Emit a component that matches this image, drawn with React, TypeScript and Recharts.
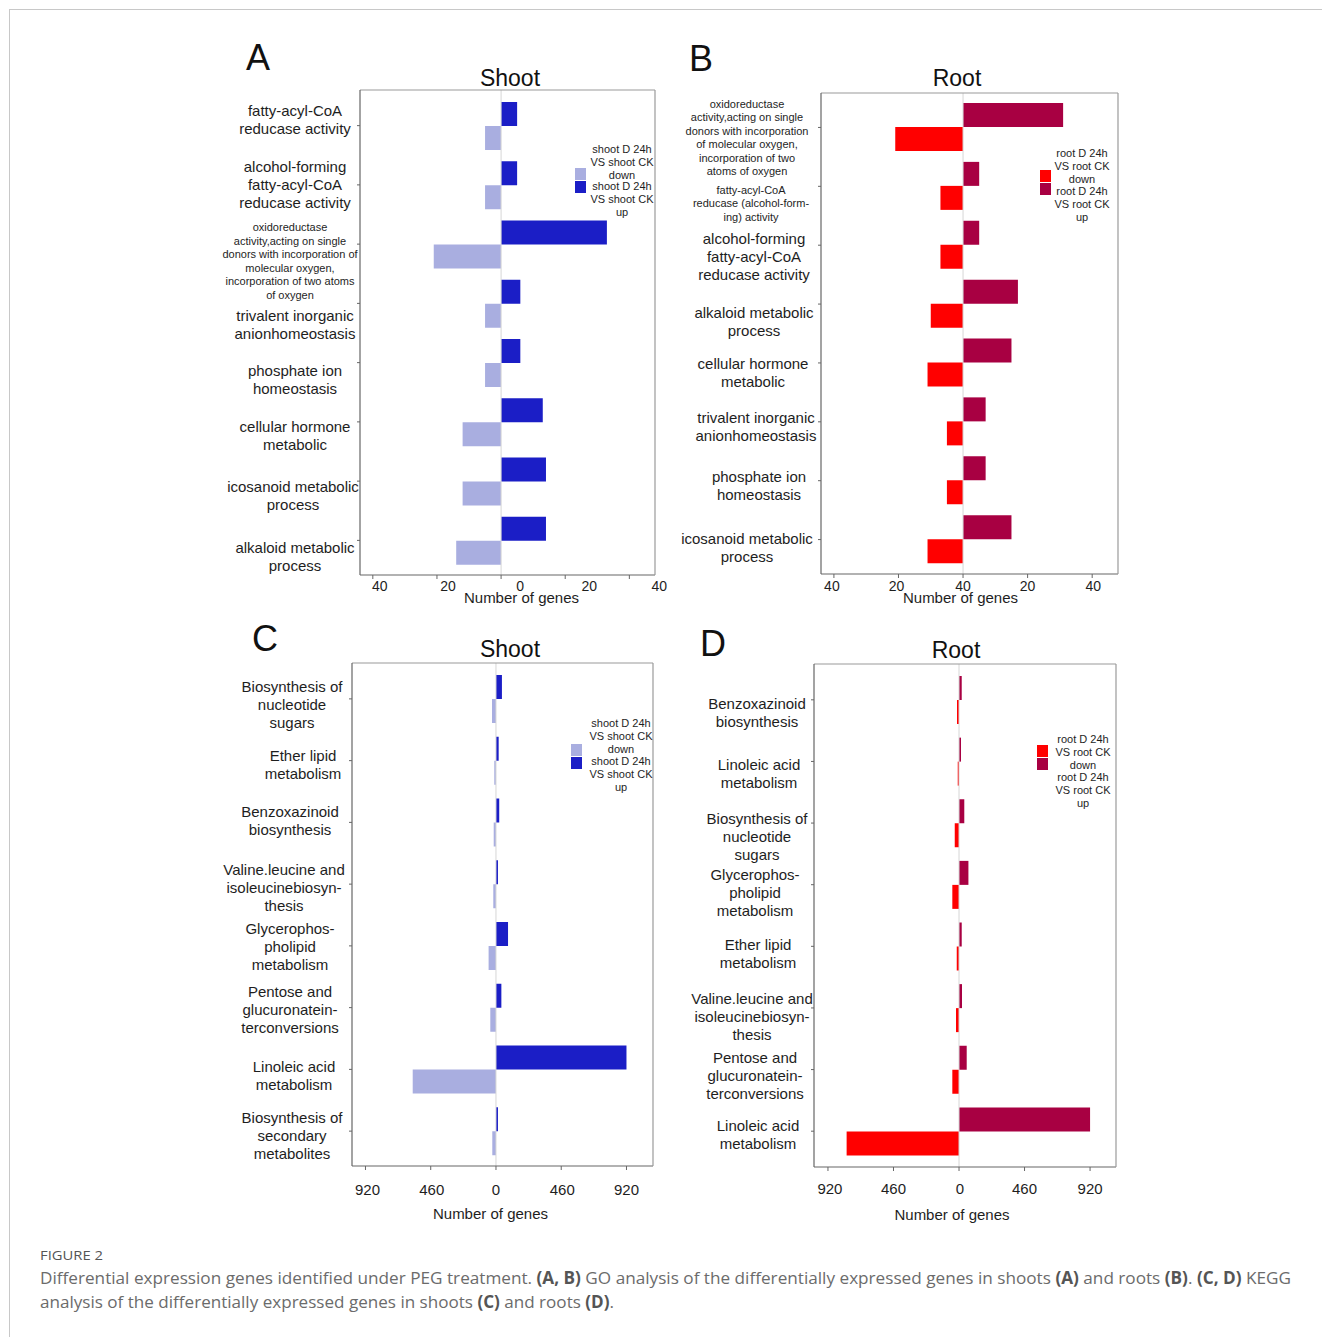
import React from 'react';
import { BarChart, Bar, XAxis, YAxis, ReferenceLine, Legend } from 'recharts';

const FONT = '"Liberation Sans", Arial, Helvetica, sans-serif';
const CAPTION_FONT = '"Liberation Sans Narrow", "Open Sans", "Noto Sans", sans-serif';
const AXIS_W = 150; // room for the multi-line term labels
const TOP_M = 9; // + 1px top frame axis
const RIGHT_M = 19; // + 1px right frame axis

// ---- series colours ----
const SHOOT_UP = '#1b1ec6';
const SHOOT_DOWN = '#a9aee0';
const ROOT_UP = '#a80042';
const ROOT_DOWN = '#ff0000';

// ---- A: GO terms, shoot (top to bottom) ----
const goShootTerms = [
  'fatty-acyl-CoA\nreducase activity',
  'alcohol-forming\nfatty-acyl-CoA\nreducase activity',
  'oxidoreductase\nactivity,acting on single\ndonors with incorporation of\nmolecular oxygen,\nincorporation of two atoms\nof oxygen',
  'trivalent inorganic\nanionhomeostasis',
  'phosphate ion\nhomeostasis',
  'cellular hormone\nmetabolic',
  'icosanoid metabolic\nprocess',
  'alkaloid metabolic\nprocess',
];
const goShootUp = [5, 5, 33, 6, 6, 13, 14, 14];
const goShootDown = [5, 5, 21, 5, 5, 12, 12, 14];

// ---- B: GO terms, root ----
const goRootTerms = [
  'oxidoreductase\nactivity,acting on single\ndonors with incorporation\nof molecular oxygen,\nincorporation of two\natoms of oxygen',
  'fatty-acyl-CoA\nreducase (alcohol-form-\ning) activity',
  'alcohol-forming\nfatty-acyl-CoA\nreducase activity',
  'alkaloid metabolic\nprocess',
  'cellular hormone\nmetabolic',
  'trivalent inorganic\nanionhomeostasis',
  'phosphate ion\nhomeostasis',
  'icosanoid metabolic\nprocess',
];
const goRootUp = [31, 5, 5, 17, 15, 7, 7, 15];
const goRootDown = [21, 7, 7, 10, 11, 5, 5, 11];

// ---- C: KEGG pathways, shoot ----
const keggShootTerms = [
  'Biosynthesis of\nnucleotide\nsugars',
  'Ether lipid\nmetabolism',
  'Benzoxazinoid\nbiosynthesis',
  'Valine.leucine and\nisoleucinebiosyn-\nthesis',
  'Glycerophos-\npholipid\nmetabolism',
  'Pentose and\nglucuronatein-\nterconversions',
  'Linoleic acid\nmetabolism',
  'Biosynthesis of\nsecondary\nmetabolites',
];
const keggShootUp = [42, 19, 23, 14, 85, 38, 920, 14];
const keggShootDown = [28, 12, 16, 19, 52, 40, 587, 26];

// ---- D: KEGG pathways, root ----
const keggRootTerms = [
  'Benzoxazinoid\nbiosynthesis',
  'Linoleic acid\nmetabolism',
  'Biosynthesis of\nnucleotide\nsugars',
  'Glycerophos-\npholipid\nmetabolism',
  'Ether lipid\nmetabolism',
  'Valine.leucine and\nisoleucinebiosyn-\nthesis',
  'Pentose and\nglucuronatein-\nterconversions',
  'Linoleic acid\nmetabolism',
];
const keggRootUp = [19, 14, 37, 66, 19, 21, 54, 920];
const keggRootDown = [14, 9, 30, 47, 16, 21, 47, 789];

// ---- axis ticks ----
const goTicks = [-40, -20, 0, 20, 40];
const goShootTickLabels = ['40', '20', '0', '20', '40'];
const goRootTickLabels = ['40', '20', '40', '20', '40'];
const keggTicks = [-920, -460, 0, 460, 920];
const keggTickLabels = ['920', '460', '0', '460', '920'];

// ---- series names (legend lines) ----
const shootUpName = 'shoot D 24h\nVS shoot CK\nup';
const shootDownName = 'shoot D 24h\nVS shoot CK\ndown';
const rootUpName = 'root D 24h\nVS root CK\nup';
const rootDownName = 'root D 24h\nVS root CK\ndown';

type Rect = { x: number; y: number; w: number; h: number };
type Lay = {
  plot: Rect;
  domain: [number, number];
  pad: { top: number; bottom: number };
  xh: number;
  smallRows: number[];
  labelInset: number;
  labelInsetSmall: number;
  labelNudge: number[];
  labelShiftX: number[];
  tickNudge: number[];
  tickDy: number;
  tickFont: number;
  titleDx: number;
  titleDy: number;
  legSqX: number;
  legSqY: number;
  legTextX: number;
  legDownY: number;
  legUpY: number;
};

type Series = {
  terms: string[];
  up: number[];
  down: number[];
  upName: string;
  downName: string;
  upColor: string;
  downColor: string;
  ticks: number[];
  tickLabels: string[];
};

function TermTick(props: any) {
  const { y, payload, lay } = props;
  const idx: number = props.index ?? payload.index ?? 0;
  const lines = String(payload.value).split('\n');
  const small = lay.smallRows.includes(idx);
  const fs = small ? 11 : 15;
  const lh = small ? 13.5 : 18;
  const cx = AXIS_W - (small ? lay.labelInsetSmall : lay.labelInset) + (lay.labelShiftX[idx] ?? 0);
  const cy = y + (lay.labelNudge[idx] ?? 0);
  const y0 = cy - ((lines.length - 1) * lh) / 2;
  return (
    <text textAnchor="middle" fontSize={fs} fontFamily={FONT} fill="#1e1e1e">
      {lines.map((l, i) => (
        <tspan key={i} x={cx} y={y0 + i * lh} dy="0.36em">
          {l}
        </tspan>
      ))}
    </text>
  );
}

function ValueTick(props: any) {
  const { x, y, payload, lay, ticks, labels } = props;
  const i = ticks.indexOf(payload.value);
  if (i < 0) return null;
  return (
    <text
      x={x + lay.tickNudge[i]}
      y={y + lay.tickDy}
      textAnchor="middle"
      fontSize={lay.tickFont}
      fontFamily={FONT}
      fill="#1e1e1e"
    >
      {labels[i]}
    </text>
  );
}

function PairLegend({ payload, lay, origin, downName }: any) {
  const all = [...(payload || [])];
  // "down" entry sits on top, "up" entry below it
  const items = [
    ...all.filter((it: any) => it.value === downName),
    ...all.filter((it: any) => it.value !== downName),
  ];
  return (
    <div style={{ position: 'relative', width: '100%', height: '100%', fontFamily: FONT, color: '#1e1e1e' }}>
      {items.map((it: any, k: number) => {
        const lines = String(it.value).split('\n');
        const first = (k === 0 ? lay.legDownY : lay.legUpY) - origin.y;
        return (
          <React.Fragment key={k}>
            <div
              style={{
                position: 'absolute',
                left: lay.legSqX - origin.x,
                top: lay.legSqY - origin.y + k * 13,
                width: 11,
                height: 12,
                background: it.color,
              }}
            />
            {lines.map((l, j) => (
              <div
                key={j}
                style={{
                  position: 'absolute',
                  left: lay.legTextX - origin.x - 50,
                  width: 100,
                  top: first + j * 13 - 7,
                  height: 14,
                  lineHeight: '14px',
                  fontSize: 11,
                  textAlign: 'center',
                  color: '#1e1e1e',
                  whiteSpace: 'nowrap',
                }}
              >
                {l}
              </div>
            ))}
          </React.Fragment>
        );
      })}
    </div>
  );
}

function Panel({ s, lay }: { s: Series; lay: Lay }) {
  const ox = lay.plot.x - AXIS_W;
  const oy = lay.plot.y - TOP_M - 1;
  const W = AXIS_W + lay.plot.w + RIGHT_M + 1;
  const H = TOP_M + 1 + lay.plot.h + lay.xh;
  const rows = s.terms.map((t, i) => ({ term: t, up: s.up[i], down: -s.down[i] }));

  const axisTitle = (p: any) => {
    const vb = p && p.viewBox && typeof p.viewBox.x === 'number'
      ? p.viewBox
      : { x: AXIS_W, y: TOP_M + 1 + lay.plot.h, width: lay.plot.w };
    return (
      <text
        x={vb.x + vb.width / 2 + lay.titleDx}
        y={vb.y + lay.titleDy}
        textAnchor="middle"
        fontSize={15}
        fontFamily={FONT}
        fill="#1e1e1e"
      >
        Number of genes
      </text>
    );
  };

  return (
    <div style={{ position: 'absolute', left: ox, top: oy }}>
      <BarChart
        width={W}
        height={H}
        data={rows}
        layout="vertical"
        margin={{ top: TOP_M, right: RIGHT_M, bottom: 0, left: 0 }}
        barGap={0}
        barSize={24}
      >
        <XAxis
          type="number"
          domain={lay.domain}
          allowDataOverflow
          ticks={s.ticks}
          interval={0}
          height={lay.xh}
          axisLine={{ stroke: '#666', strokeWidth: 1.2 }}
          tickLine={{ stroke: '#666' }}
          tickSize={4}
          tickMargin={2}
          tick={(p: any) => <ValueTick {...p} lay={lay} ticks={s.ticks} labels={s.tickLabels} />}
          label={axisTitle}
        />
        <XAxis
          xAxisId="frame"
          orientation="top"
          type="number"
          domain={lay.domain}
          allowDataOverflow
          height={1}
          tick={false}
          tickLine={false}
          axisLine={{ stroke: '#9a9a9a', strokeWidth: 1.2 }}
        />
        <YAxis
          type="category"
          dataKey="term"
          width={AXIS_W}
          interval={0}
          padding={lay.pad}
          axisLine={{ stroke: '#666', strokeWidth: 1.2 }}
          tickLine={{ stroke: '#666' }}
          tickSize={3}
          tickMargin={2}
          tick={(p: any) => <TermTick {...p} lay={lay} />}
        />
        <YAxis
          yAxisId="frame"
          orientation="right"
          type="category"
          dataKey="term"
          width={1}
          tick={false}
          tickLine={false}
          axisLine={{ stroke: '#9a9a9a', strokeWidth: 1.2 }}
        />
        <ReferenceLine x={0} stroke="#d6d6d6" strokeWidth={1} />
        <Bar dataKey="up" name={s.upName} fill={s.upColor} isAnimationActive={false} />
        <Bar dataKey="down" name={s.downName} fill={s.downColor} isAnimationActive={false} />
        <Legend
          layout="horizontal"
          align="center"
          verticalAlign="middle"
          wrapperStyle={{ position: 'absolute', left: 0, top: 0, width: W, height: H, pointerEvents: 'none' }}
          content={(p: any) => (
            <PairLegend payload={p.payload} lay={lay} origin={{ x: ox, y: oy }} downName={s.downName} />
          )}
        />
      </BarChart>
    </div>
  );
}

// ---- panel data ----
const seriesA: Series = {
  terms: goShootTerms, up: goShootUp, down: goShootDown,
  upName: shootUpName, downName: shootDownName, upColor: SHOOT_UP, downColor: SHOOT_DOWN,
  ticks: goTicks, tickLabels: goShootTickLabels,
};
const seriesB: Series = {
  terms: goRootTerms, up: goRootUp, down: goRootDown,
  upName: rootUpName, downName: rootDownName, upColor: ROOT_UP, downColor: ROOT_DOWN,
  ticks: goTicks, tickLabels: goRootTickLabels,
};
const seriesC: Series = {
  terms: keggShootTerms, up: keggShootUp, down: keggShootDown,
  upName: shootUpName, downName: shootDownName, upColor: SHOOT_UP, downColor: SHOOT_DOWN,
  ticks: keggTicks, tickLabels: keggTickLabels,
};
const seriesD: Series = {
  terms: keggRootTerms, up: keggRootUp, down: keggRootDown,
  upName: rootUpName, downName: rootDownName, upColor: ROOT_UP, downColor: ROOT_DOWN,
  ticks: keggTicks, tickLabels: keggTickLabels,
};

// ---- panel layout ----
const layA: Lay = {
  plot: { x: 360, y: 90, w: 295, h: 485 },
  domain: [-44, 48],
  pad: { top: 6, bottom: 5 },
  xh: 60,
  smallRows: [2],
  labelInset: 65,
  labelInsetSmall: 70,
  labelNudge: [-6, 0, 17, 21, 17, 14, 14, 16],
  labelShiftX: [0, 0, 0, 0, 0, 0, -2, 0],
  tickNudge: [7, 11, 19, 24, 30],
  tickDy: 10,
  tickFont: 14,
  titleDx: 14,
  titleDy: 28,
  legSqX: 575, legSqY: 168, legTextX: 622, legDownY: 149, legUpY: 186,
};
const layB: Lay = {
  plot: { x: 821, y: 93, w: 297, h: 481 },
  domain: [-44, 48],
  pad: { top: 5, bottom: 5 },
  xh: 60,
  smallRows: [0, 1],
  labelInset: 68,
  labelInsetSmall: 72,
  labelNudge: [10, 17, 11, 18, 10, 5, 5, 8],
  labelShiftX: [-2, 2, 1, 1, 0, 3, 6, -6],
  tickNudge: [-2, -2, 0, 0, 1],
  tickDy: 11,
  tickFont: 14,
  titleDx: -9,
  titleDy: 29,
  legSqX: 1040, legSqY: 170, legTextX: 1082, legDownY: 153, legUpY: 191,
};
const layC: Lay = {
  plot: { x: 352, y: 663, w: 301, h: 503 },
  domain: [-1015, 1107],
  pad: { top: 5, bottom: 4 },
  xh: 70,
  smallRows: [],
  labelInset: 61,
  labelInsetSmall: 61,
  labelNudge: [6, 4, -2, 3, 1, 2, 6, 4],
  labelShiftX: [1, 12, -1, -7, -1, -1, 3, 1],
  tickNudge: [2, 1, 0, 1, 0],
  tickDy: 23,
  tickFont: 15,
  titleDx: -12,
  titleDy: 53,
  legSqX: 571, legSqY: 744, legTextX: 621, legDownY: 723, legUpY: 761,
};
const layD: Lay = {
  plot: { x: 814, y: 664, w: 302, h: 503 },
  domain: [-1018, 1102],
  pad: { top: 5, bottom: 5 },
  xh: 70,
  smallRows: [],
  labelInset: 57,
  labelInsetSmall: 57,
  labelNudge: [13, 12, 14, 8, 7, 9, 6, 3],
  labelShiftX: [0, 2, 0, -2, 1, -5, -2, 1],
  tickNudge: [2, 0, 1, 0, 0],
  tickDy: 21,
  tickFont: 15,
  titleDx: -13,
  titleDy: 53,
  legSqX: 1037, legSqY: 745, legTextX: 1083, legDownY: 739, legUpY: 777,
};

const B = (t: string) => <tspan fontWeight="bold" fill="#555">{t}</tspan>;

export default function App() {
  return (
    <div style={{ position: 'absolute', left: 0, top: 0, width: 1322, height: 1337, background: '#fff', overflow: 'hidden' }}>
      <Panel s={seriesA} lay={layA} />
      <Panel s={seriesB} lay={layB} />
      <Panel s={seriesC} lay={layC} />
      <Panel s={seriesD} lay={layD} />
      <svg width={1322} height={1337} style={{ position: 'absolute', left: 0, top: 0, pointerEvents: 'none' }}>
        <line x1={9} y1={9.5} x2={1322} y2={9.5} stroke="#c8c8c8" />
        <line x1={9.5} y1={9} x2={9.5} y2={1337} stroke="#c8c8c8" />

        <g fontFamily={FONT} fill="#111">
          <text x={246} y={70} fontSize={36}>A</text>
          <text x={689} y={71} fontSize={36}>B</text>
          <text x={252} y={651} fontSize={36}>C</text>
          <text x={700} y={656} fontSize={36}>D</text>
          <text x={510} y={86} fontSize={23} textAnchor="middle">Shoot</text>
          <text x={957} y={86} fontSize={23} textAnchor="middle">Root</text>
          <text x={510} y={657} fontSize={23} textAnchor="middle">Shoot</text>
          <text x={956} y={658} fontSize={23} textAnchor="middle">Root</text>
        </g>

        <g fontFamily={CAPTION_FONT}>
          <text x={40} y={1260} fontSize={13} fill="#555" textLength={63} lengthAdjust="spacingAndGlyphs">FIGURE 2</text>
          <text x={40} y={1284} fontSize={17} fill="#6b6b6b" textLength={1251} lengthAdjust="spacingAndGlyphs">
            {'Differential expression genes identified under PEG treatment. '}
            {B('(A, B)')}
            {' GO analysis of the differentially expressed genes in shoots '}
            {B('(A)')}
            {' and roots '}
            {B('(B)')}
            {'. '}
            {B('(C, D)')}
            {' KEGG'}
          </text>
          <text x={40} y={1308} fontSize={17} fill="#6b6b6b" textLength={574} lengthAdjust="spacingAndGlyphs">
            {'analysis of the differentially expressed genes in shoots '}
            {B('(C)')}
            {' and roots '}
            {B('(D)')}
            {'.'}
          </text>
        </g>
      </svg>
    </div>
  );
}
